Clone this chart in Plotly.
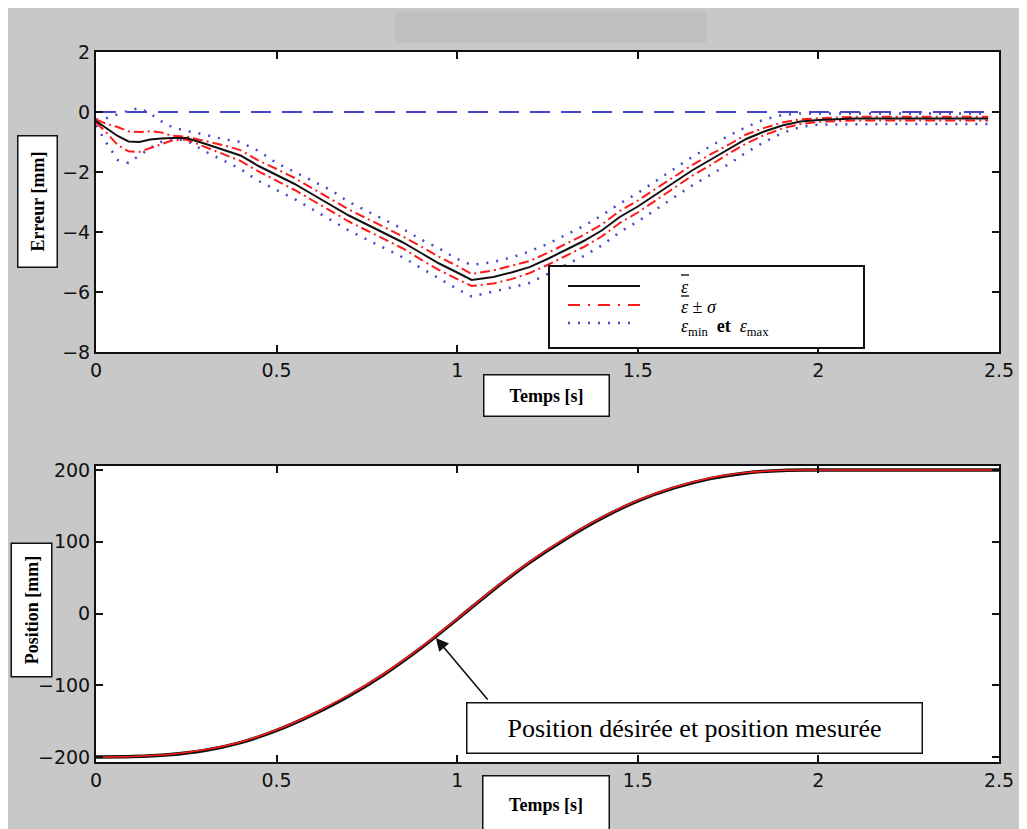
import plotly.graph_objects as go

# ---------------- data ----------------
t_err = [0, 0.03, 0.06, 0.09, 0.12, 0.15, 0.18, 0.21, 0.25, 0.3, 0.35, 0.4, 0.45, 0.5,
         0.55, 0.6, 0.65, 0.7, 0.75, 0.8, 0.85, 0.9, 0.95, 1.0, 1.04, 1.1, 1.15, 1.2,
         1.25, 1.3, 1.35, 1.4, 1.45, 1.5, 1.55, 1.6, 1.65, 1.7, 1.75, 1.8, 1.85, 1.9,
         1.95, 2.0, 2.1, 2.2, 2.3, 2.4, 2.47]
err_mean = [-0.3, -0.55, -0.8, -0.98, -1.0, -0.92, -0.88, -0.87, -0.87, -1.05, -1.25, -1.45,
            -1.8, -2.1, -2.4, -2.75, -3.1, -3.45, -3.75, -4.05, -4.35, -4.7, -5.05, -5.35,
            -5.6, -5.5, -5.35, -5.17, -4.9, -4.6, -4.3, -3.95, -3.5, -3.15, -2.75, -2.35,
            -1.95, -1.6, -1.25, -0.9, -0.65, -0.45, -0.32, -0.27, -0.22, -0.22, -0.22,
            -0.22, -0.22]
err_sigma = [0.05, 0.15, 0.3, 0.33, 0.33, 0.28, 0.2, 0.08, 0.05, 0.1, 0.15, 0.18, 0.18, 0.2,
             0.2, 0.2, 0.2, 0.2, 0.2, 0.2, 0.2, 0.22, 0.22, 0.22, 0.2, 0.22, 0.22, 0.2, 0.2,
             0.2, 0.2, 0.2, 0.2, 0.2, 0.2, 0.2, 0.18, 0.18, 0.15, 0.15, 0.12, 0.1, 0.08,
             0.06, 0.06, 0.06, 0.06, 0.06, 0.06]
err_max = [-0.25, -0.2, -0.08, 0.05, 0.13, -0.05, -0.3, -0.5, -0.63, -0.75, -0.9, -1.0, -1.3,
           -1.7, -2.0, -2.3, -2.6, -3.0, -3.3, -3.6, -3.9, -4.25, -4.55, -4.9, -5.1, -5.0,
           -4.85, -4.65, -4.4, -4.1, -3.8, -3.45, -3.05, -2.7, -2.3, -1.9, -1.5, -1.15,
           -0.8, -0.5, -0.25, -0.1, -0.05, -0.05, -0.05, -0.05, -0.05, -0.05, -0.05]
err_min = [-0.45, -1.05, -1.6, -1.7, -1.45, -1.2, -1.0, -0.9, -0.95, -1.3, -1.6, -1.9, -2.3,
           -2.6, -2.9, -3.25, -3.6, -3.95, -4.25, -4.55, -4.85, -5.2, -5.55, -5.9, -6.15,
           -6.0, -5.85, -5.7, -5.4, -5.1, -4.8, -4.45, -4.0, -3.65, -3.25, -2.85, -2.45,
           -2.1, -1.75, -1.35, -1.0, -0.7, -0.5, -0.42, -0.4, -0.4, -0.4, -0.4, -0.4]
t_zero = [0, 2.5]
zero_line = [0, 0]

t_pos = [0, 0.1, 0.2, 0.3, 0.4, 0.5, 0.6, 0.7, 0.8, 0.9, 1.0, 1.1, 1.2, 1.3, 1.4, 1.5,
         1.6, 1.7, 1.8, 1.9, 2.0, 2.5]
pos_desired = [-200, -199.5, -197, -191, -180, -163, -141, -115, -84, -48, -8, 33, 71, 104,
               133, 157, 175, 188, 196, 199.5, 200, 200]
pos_measured = [-200, -199.3, -196.5, -190, -179, -162, -140, -113.5, -83, -47, -7, 34, 72,
                105, 134, 158, 176, 189, 196.5, 199.6, 200, 200]

x_ticks = [0, 0.5, 1, 1.5, 2, 2.5]
x_ticklabels = ["0", "0.5", "1", "1.5", "2", "2.5"]
err_ticks = [2, 0, -2, -4, -6, -8]
pos_ticks = [200, 100, 0, -100, -200]

err_upper = [m + s for m, s in zip(err_mean, err_sigma)]
err_lower = [m - s for m, s in zip(err_mean, err_sigma)]

# ---------------- figure ----------------
# the page body has an 8px margin, so the figure starts at (8, 8) in the window
OFF = 8
W, H = 1027 - OFF, 829 - OFF
ML, MT = 96 - OFF, 52 - OFF
MR = W - (999 - OFF)
MB = H - (762 - OFF)
PW, PH = W - ML - MR, H - MT - MB


def px(x):  # reference-window pixel -> paper x
    return (x - OFF - ML) / PW


def py(y):  # reference-window pixel -> paper y
    return 1 - (y - OFF - MT) / PH


BLUE = "#4646c8"
RED = "#ff1a1a"

fig = go.Figure()
fig.add_trace(go.Scatter(x=t_zero, y=zero_line, mode="lines",
                         line=dict(color=BLUE, width=2, dash="20px,11px"),
                         xaxis="x", yaxis="y", showlegend=False))
fig.add_trace(go.Scatter(x=t_err, y=err_max, mode="lines",
                         line=dict(color=BLUE, width=2.5, dash="2px,8px"),
                         xaxis="x", yaxis="y", showlegend=False))
fig.add_trace(go.Scatter(x=t_err, y=err_min, mode="lines",
                         line=dict(color=BLUE, width=2.5, dash="2px,8px"),
                         xaxis="x", yaxis="y", showlegend=False))
fig.add_trace(go.Scatter(x=t_err, y=err_upper, mode="lines",
                         line=dict(color=RED, width=2, dash="10px,4px,2px,4px"),
                         xaxis="x", yaxis="y", showlegend=False))
fig.add_trace(go.Scatter(x=t_err, y=err_lower, mode="lines",
                         line=dict(color=RED, width=2, dash="10px,4px,2px,4px"),
                         xaxis="x", yaxis="y", showlegend=False))
fig.add_trace(go.Scatter(x=t_err, y=err_mean, mode="lines",
                         line=dict(color="#111111", width=2),
                         xaxis="x", yaxis="y", showlegend=False))

fig.add_trace(go.Scatter(x=t_pos, y=pos_desired, mode="lines", line_shape="spline",
                         line=dict(color="#111111", width=3.5),
                         xaxis="x2", yaxis="y2", showlegend=False))
fig.add_trace(go.Scatter(x=t_pos, y=pos_measured, mode="lines", line_shape="spline",
                         line=dict(color=RED, width=1.6),
                         xaxis="x2", yaxis="y2", showlegend=False))

tickfont = dict(family="DejaVu Sans, Arial, sans-serif", size=19, color="#111111")
axis_common = dict(showline=True, linecolor="#111111", linewidth=2, mirror="ticks",
                   ticks="inside", ticklen=7, tickwidth=1.5, tickcolor="#111111",
                   showgrid=False, zeroline=False, tickfont=tickfont)

top_dom = [py(352), 1]
bot_dom = [0, py(466)]

fig.update_layout(
    width=W, height=H,
    margin=dict(l=ML, r=MR, t=MT, b=MB),
    paper_bgcolor="#c8c8c8",
    plot_bgcolor="white",
    showlegend=False,
    xaxis=dict(domain=[0, 1], anchor="y", range=[0, 2.5], tickvals=x_ticks,
               ticktext=x_ticklabels, **axis_common),
    yaxis=dict(domain=top_dom, anchor="x", range=[-8, 2], tickvals=err_ticks, **axis_common),
    xaxis2=dict(domain=[0, 1], anchor="y2", range=[0, 2.5], tickvals=x_ticks,
                ticktext=x_ticklabels, **axis_common),
    yaxis2=dict(domain=bot_dom, anchor="x2", range=[-207, 205.6], tickvals=pos_ticks,
                **axis_common),
)

shapes = []
# blank title placeholder
shapes.append(dict(type="rect", xref="paper", yref="paper", x0=px(395), x1=px(706),
                   y0=py(43), y1=py(12), fillcolor="#bfbfbf",
                   line=dict(color="#c4c4c4", width=1), layer="below"))
# legend box
shapes.append(dict(type="rect", xref="paper", yref="paper", x0=px(549), x1=px(864),
                   y0=py(348), y1=py(266), fillcolor="white",
                   line=dict(color="#111111", width=2), layer="above"))
shapes.append(dict(type="line", xref="paper", yref="paper", x0=px(568), x1=px(640),
                   y0=py(286), y1=py(286), line=dict(color="#111111", width=2), layer="above"))
shapes.append(dict(type="line", xref="paper", yref="paper", x0=px(568), x1=px(640),
                   y0=py(305), y1=py(305),
                   line=dict(color=RED, width=2, dash="12px,8px,2px,8px"), layer="above"))
shapes.append(dict(type="line", xref="paper", yref="paper", x0=px(568), x1=px(634),
                   y0=py(323), y1=py(323), line=dict(color=BLUE, width=2.5, dash="2px,8px"),
                   layer="above"))
# overbars above epsilon in the legend texts
shapes.append(dict(type="line", xref="paper", yref="paper", x0=px(681), x1=px(689),
                   y0=py(275), y1=py(275), line=dict(color="black", width=1.3), layer="above"))
shapes.append(dict(type="line", xref="paper", yref="paper", x0=px(681), x1=px(689),
                   y0=py(296), y1=py(296), line=dict(color="black", width=1.3), layer="above"))
fig.update_layout(shapes=shapes)

serif = "Liberation Serif, Times New Roman, serif"
ann = []


def boxlabel(text, cx, cy, w, h, angle=0, size=18):
    return dict(text="<b>%s</b>" % text, xref="paper", yref="paper",
                x=px(cx), y=py(cy), xanchor="center", yanchor="middle", showarrow=False,
                textangle=angle, width=w, height=h, bgcolor="white", bordercolor="#111111",
                borderwidth=1.5, borderpad=0,
                font=dict(family=serif, size=size, color="black"))


ann.append(boxlabel("Erreur [mm]", 37.5, 201.5, 130, 38, angle=-90))
ann.append(boxlabel("Temps [s]", 546.5, 395.5, 124, 40))
ann.append(boxlabel("Position [mm]", 31, 610.5, 132, 39, angle=-90))
ann.append(boxlabel("Temps [s]", 546, 805, 125, 56))

# legend texts
lg_font = dict(family=serif, size=18, color="black")
ann.append(dict(text="<i>ε</i>", xref="paper", yref="paper", x=px(679), y=py(287),
                xanchor="left", yanchor="middle", showarrow=False, font=lg_font))
ann.append(dict(text="<i>ε</i> ± <i>σ</i>", xref="paper", yref="paper", x=px(679),
                y=py(307), xanchor="left", yanchor="middle", showarrow=False, font=lg_font))
ann.append(dict(text="<i>ε</i><sub>min</sub>  <b>et</b>  <i>ε</i><sub>max</sub>",
                xref="paper", yref="paper", x=px(679), y=py(328), xanchor="left",
                yanchor="middle", showarrow=False, font=lg_font))

# bottom annotation box + arrow
ann.append(dict(text="Position désirée et position mesurée", xref="paper", yref="paper",
                x=px(694.5), y=py(728), xanchor="center", yanchor="middle", showarrow=False,
                width=454, height=49, bgcolor="white", bordercolor="#111111", borderwidth=1.5,
                borderpad=0, font=dict(family=serif, size=26, color="black")))
ann.append(dict(text="", xref="x2", yref="y2", x=0.941, y=-34, ax=53, ay=63,
                showarrow=True, arrowhead=2, arrowsize=1.6, arrowwidth=1.6,
                arrowcolor="#111111"))

fig.update_layout(annotations=ann)

fig.write_html("out.html")
